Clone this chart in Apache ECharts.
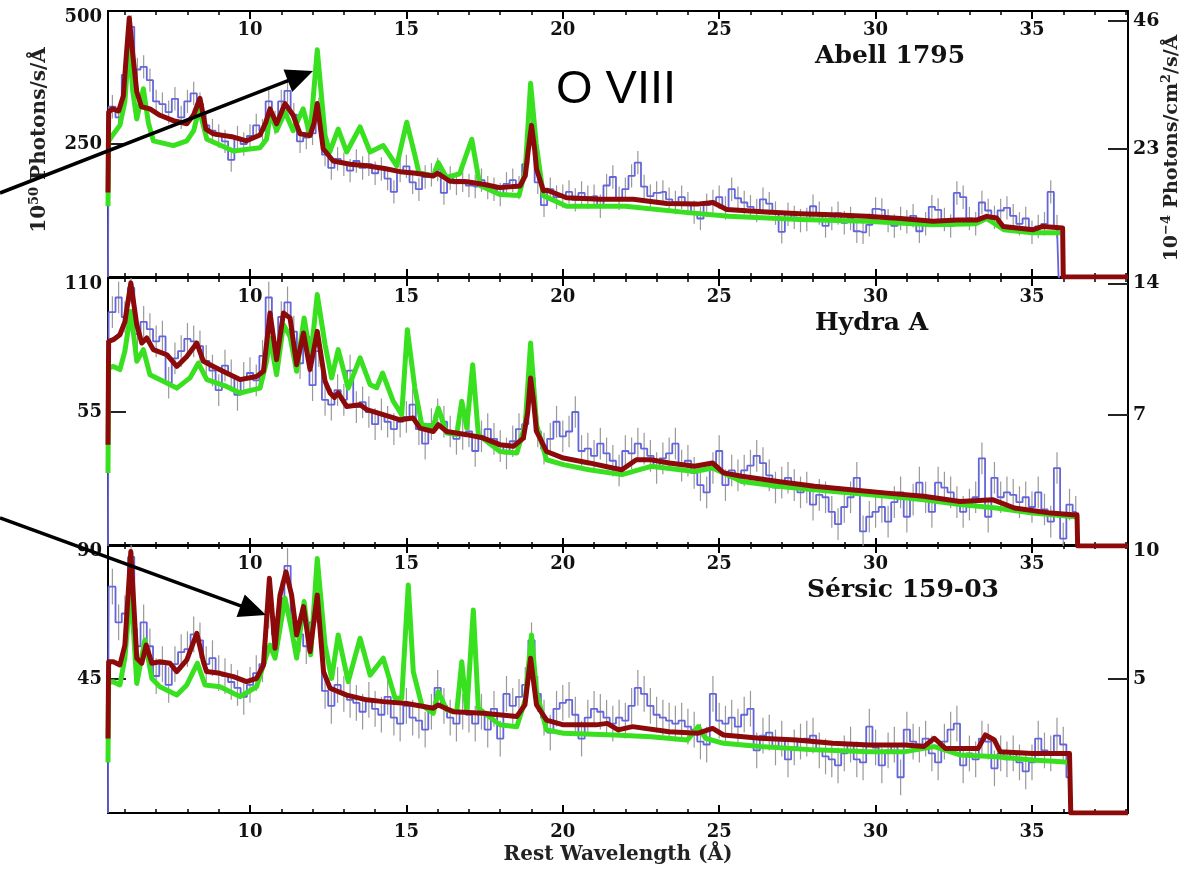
<!DOCTYPE html>
<html><head><meta charset="utf-8">
<script src="https://cdn.jsdelivr.net/npm/echarts@6/dist/echarts.min.js"></script>
<style>html,body{margin:0;padding:0;background:#fff}#c{width:1185px;height:874px}</style>
</head><body><div id="c"></div>
<script>
// ---------------- data ----------------
const X_MIN = 5.46, X_MAX = 38.07;
const xMajorTicks = [10, 15, 20, 25, 30, 35];
const xMinorTicks = [6,7,8,9,10,11,12,13,14,15,16,17,18,19,20,21,22,23,24,25,26,27,28,29,30,31,32,33,34,35,36,37,38];
const leftMax = [500, 110, 90];
const leftTickVals = [[250, 500], [55, 110], [45, 90]];
const rightMax = [47.8, 14.29, 10];
const rightTickVals = [[23, 46], [7, 14], [5, 10]];
const panelNames = ['Abell 1795', 'Hydra A', 'Sérsic 159-03'];

// blue binned data (bins of 0.2 Å starting at 5.6 Å)
const BIN_START = 5.6, BIN_W = 0.2;
const blue1 = [
 320,300,380,470,390,395,370,330,325,310,
 335,300,330,345,325,285,275,265,255,220,
 262,250,265,285,275,330,290,330,350,305,
 255,262,270,315,230,205,222,212,200,218,
 205,212,195,203,185,160,200,208,178,165,
 188,192,202,158,186,176,182,172,170,182,
 168,165,155,175,182,168,212,282,178,135,
 165,150,152,160,145,158,150,152,133,172,
 188,148,165,190,215,170,152,158,160,146,
 140,150,138,122,110,135,142,150,130,165,
 148,140,132,125,146,138,120,85,118,112,
 106,108,133,120,96,110,120,102,110,86,
 84,98,128,126,106,96,110,104,115,86,
 100,132,126,108,96,158,150,110,100,140,
 125,112,125,130,115,100,110,84,95,100,
 160,95];
const blue2 = [
 96,102,94,106,87,92,89,84,86,67,
 77,80,85,84,82,76,72,64,74,70,
 62,69,71,68,78,102,79,94,100,88,
 75,86,66,80,60,58,64,60,72,57,
 59,55,50,54,51,48,51,53,58,48,
 42,50,54,51,47,44,46,47,39,45,
 48,44,41,38,43,48,50,69,47,40,
 44,51,45,47,55,39,40,37,42,38,
 35,31,39,38,42,40,37,32,36,38,
 42,33,35,30,25,22,32,39,25,31,
 29,31,33,37,34,29,24,26,28,25,
 22,24,17,21,20,14,9,16,20,28,
 6,12,14,16,10,18,22,12,19,26,
 20,14,26,24,22,18,14,17,20,36,
 12,28,20,22,21,18,20,16,22,15,
 10,32,3,17,14];
const blue3 = [
 76,64,67,86,56,64,56,46,50,43,
 50,54,55,60,58,50,52,47,46,44,
 42,39,43,47,50,68,60,72,83,64,
 60,56,64,66,41,36,43,40,38,37,
 34,38,35,33,39,32,30,36,32,31,
 28,34,42,36,32,30,34,33,30,34,
 28,35,25,40,36,39,43,58,40,32,
 27,35,37,38,33,25,32,35,34,32,
 30,32,31,36,42,40,36,33,32,31,
 30,31,29,28,24,23,40,31,30,32,
 29,33,35,21,26,27,22,25,18,22,
 24,25,26,21,19,18,16,20,23,18,
 17,29,22,16,21,23,12,28,24,23,
 25,20,17,24,28,30,16,20,18,25,
 24,15,20,18,20,17,14,17,25,21,
 20,26,23,12];
const errHalf = [22, 6.5, 6];

// model curves [wavelength, value]
const red1 = [[5.46,159],[5.48,310],[5.6,316],[5.8,312],[5.95,340],[6.05,420],[6.14,487],[6.25,420],[6.38,348],[6.53,320],[6.8,316],[7.12,304],[7.55,294],[7.98,288],[8.2,305],[8.4,336],[8.59,278],[8.83,269],[9.47,263],[9.89,256],[10.32,267],[10.5,290],[10.64,316],[10.85,288],[11.12,326],[11.38,304],[11.6,269],[11.92,266],[12.05,290],[12.15,326],[12.34,241],[12.66,218],[13.2,212],[13.73,209],[14.3,204],[14.8,198],[15.3,195],[15.86,190],[16.0,195],[16.39,180],[16.93,179],[17.5,174],[17.99,168],[18.63,171],[18.8,190],[18.9,240],[19.0,285],[19.1,240],[19.16,203],[19.38,162],[19.5,163],[20.12,149],[21.19,146],[22.25,146],[23.32,138],[24.3,137],[24.8,140],[25.24,127],[26.5,122],[27.58,119],[28.6,117],[29.71,114],[30.8,110],[31.84,105],[32.6,107],[33.23,107],[33.55,114],[33.87,111],[34.08,95],[35.04,89],[35.35,95],[35.98,92],[36.0,0],[38.07,0]];
const green1 = [[5.46,133],[5.48,255],[5.6,266],[5.84,285],[6.0,330],[6.14,443],[6.25,350],[6.38,297],[6.59,354],[6.75,290],[6.91,256],[7.55,247],[7.98,256],[8.2,275],[8.37,316],[8.62,259],[9.47,237],[10.32,243],[10.53,259],[10.66,310],[10.85,275],[11.12,310],[11.38,275],[11.7,316],[11.92,266],[12.15,427],[12.4,266],[12.55,235],[12.82,278],[13.09,235],[13.52,282],[13.84,235],[14.26,247],[14.69,209],[15.01,291],[15.27,229],[15.4,196],[15.86,190],[16.02,215],[16.28,187],[16.7,194],[17.09,259],[17.35,172],[17.99,155],[18.6,153],[18.8,200],[18.97,364],[19.15,250],[19.38,153],[20.12,133],[22.0,133],[24.0,121],[25.3,114],[27.6,108],[29.7,105],[31.8,98],[33.2,100],[33.55,110],[34.1,89],[35.0,83],[35.9,83]];
const red2 = [[5.46,41.6],[5.48,84],[5.63,84.7],[5.84,86.7],[6.0,92],[6.19,108],[6.38,90.8],[6.54,83.3],[6.7,85.4],[6.91,80.6],[7.34,78.5],[7.66,73.7],[7.98,77.8],[8.3,83.3],[8.51,75.8],[8.83,73.7],[9.25,71],[9.68,68.3],[10.21,69.6],[10.43,71.7],[10.64,95.6],[10.85,76.5],[11.07,95.6],[11.28,93.6],[11.49,74.4],[11.71,87.4],[11.92,72.4],[12.15,88.1],[12.4,67.6],[12.56,62.8],[12.7,61],[12.82,62.8],[13.09,57.3],[13.52,58],[13.73,56],[14.26,53.9],[14.8,51.8],[15.22,52.5],[15.43,48.4],[15.86,47],[16.02,49.8],[16.29,47],[16.93,45.7],[17.46,44.3],[17.99,41.6],[18.42,40.9],[18.74,44.3],[18.88,55],[18.97,69],[19.06,60],[19.16,47],[19.48,38.8],[20.02,36.1],[20.84,34.1],[21.6,32],[21.89,31.3],[22.35,35.4],[22.82,35.4],[23.4,34.1],[24.21,32.7],[24.79,34.1],[25.14,30],[25.72,28.6],[26.88,26.5],[28.05,24.5],[29.21,23.1],[30.37,21.7],[31.54,20.4],[32.7,18.3],[33.74,19],[34.44,15.6],[35.6,13.5],[36.3,12.8],[36.44,12.8],[36.46,0],[38.07,0]];
const green2 = [[5.46,30],[5.48,73],[5.63,73.7],[5.84,72.4],[6.0,80],[6.19,96.3],[6.38,75.8],[6.59,80.6],[6.8,70.3],[7.34,66.9],[7.66,64.8],[8.08,69],[8.35,75.1],[8.62,68.3],[9.25,65.5],[9.68,62.8],[10.32,64.8],[10.53,75.8],[10.64,85.4],[10.85,70.3],[11.07,90.8],[11.28,86],[11.49,71.7],[11.73,93.6],[11.94,77.2],[12.15,103.2],[12.4,82.6],[12.61,69],[12.82,80.6],[13.14,64.8],[13.52,77.2],[13.84,66.2],[14.05,65],[14.24,71],[14.58,59.4],[14.85,53.9],[15.03,88.8],[15.27,64.8],[15.49,49.8],[15.86,49.1],[16.02,56.6],[16.29,46.4],[16.61,45.7],[16.77,59.4],[16.93,48.4],[17.12,74.4],[17.3,45.7],[17.99,38.8],[18.53,38.2],[18.8,50],[18.97,83.3],[19.16,49.8],[19.48,35.4],[20.02,33.4],[20.84,31.3],[21.89,29.3],[22.82,32.7],[24.21,30.6],[24.79,32],[25.72,26.5],[26.88,24.5],[28.05,23.1],[29.21,21.7],[30.37,20.4],[31.54,19],[32.7,17],[33.86,15.6],[35.02,13.5],[36.18,12.2],[36.4,12]];
const red3 = [[5.46,25],[5.48,50.8],[5.63,50.8],[5.84,49.7],[6.0,56.4],[6.19,87.8],[6.38,52],[6.54,50.3],[6.68,56.4],[6.86,50.3],[7.12,50.8],[7.44,50.3],[7.66,47.5],[7.98,51.4],[8.3,60.3],[8.51,50.8],[8.61,47.5],[9.04,46.9],[9.47,45.8],[9.89,44.1],[10.21,45.2],[10.43,49.7],[10.62,78.8],[10.8,55.3],[10.96,73.2],[11.15,81],[11.33,73.2],[11.49,59.8],[11.71,69.3],[11.92,54.2],[12.15,73.2],[12.35,47.5],[12.56,41.9],[13.09,39.6],[13.73,38],[14.26,37.4],[15.01,36.8],[15.86,35.2],[16.02,36.3],[16.5,34],[17.46,33.5],[18.53,32.4],[18.79,36.3],[18.97,52],[19.16,36.3],[19.48,31.2],[20.02,29.6],[21.07,29.6],[21.42,30.1],[21.77,27.9],[22.23,29],[23.4,27.3],[24.33,26.8],[24.79,28.4],[25.14,26.2],[26.3,25.1],[27.47,24.5],[28.63,23.4],[29.79,22.8],[30.95,22.8],[31.54,22.3],[31.88,25.1],[32.23,21.7],[33.28,21.7],[33.51,26.2],[33.8,24.5],[33.98,20.6],[35.02,20],[36.13,20],[36.2,20],[36.24,0],[38.07,0]];
const green3 = [[5.46,17],[5.48,44],[5.63,44.1],[5.84,43],[6.0,52],[6.19,75.4],[6.38,43.5],[6.64,58.1],[6.86,45.2],[7.12,42.4],[7.66,39.6],[7.98,43],[8.32,50.3],[8.56,43],[9.04,42.4],[9.68,39.1],[10.21,42.4],[10.53,53.1],[10.64,56.4],[10.8,52],[11.12,72.1],[11.33,61.5],[11.49,52],[11.73,71],[11.94,53.1],[12.15,85.5],[12.4,56.4],[12.61,45.2],[12.82,59.8],[13.14,44.1],[13.52,58.7],[13.84,46.3],[14.26,52],[14.64,38.5],[14.85,38.5],[15.06,76.6],[15.22,47.5],[15.49,36.3],[15.86,33.5],[16.02,40.7],[16.29,34.6],[16.61,34],[16.77,50.8],[16.93,34],[17.14,68.2],[17.3,35.2],[17.99,29.6],[18.53,29],[18.8,38],[19.0,59.8],[19.16,40.7],[19.48,27.9],[20.02,26.8],[21.65,26.2],[22.82,25.6],[23.98,24.5],[24.33,29],[24.56,25.1],[25.14,23.4],[26.3,22.3],[28.05,21.2],[29.79,20.6],[30.95,20.6],[31.88,22.3],[32.7,19.5],[33.86,18.9],[35.02,17.8],[35.95,17.2],[36.15,17]];

const blues = [blue1, blue2, blue3];
const reds = [red1, red2, red3];
const greens = [green1, green2, green3];

// ---------------- layout / style ----------------
const SERIF = 'DejaVu Serif';
const grids = [
  {left:108, right:57, top:11, height:266},
  {left:108, right:57, top:278, height:268},
  {left:108, right:57, top:545, height:268}
];
const C_RED = '#8c0a0a', C_GREEN = '#38e020', C_BLUE = '#6464dc', C_ERR = '#999999';

function binPairs(arr) {
  return arr.map((v, i) => [Math.round((BIN_START + i * BIN_W) * 100) / 100, v]);
}

const xAxes = [], yAxes = [], series = [];
const lblStyle = {fontFamily: SERIF, fontWeight: 'bold', fontSize: 18, color: '#111'};
for (let g = 0; g < 3; g++) {
  const common = {gridIndex: g, type: 'value', min: X_MIN, max: X_MAX, splitLine: {show: false}};
  const lineOn = {show: true, onZero: false, lineStyle: {color: '#000', width: 2}};
  const minorT = {show: true, inside: true, length: 4, customValues: xMinorTicks, lineStyle: {color: '#000', width: 1.5}};
  const majorT = {show: true, inside: true, length: 8, customValues: xMajorTicks, lineStyle: {color: '#000', width: 2}};
  xAxes.push(Object.assign({}, common, {position: 'bottom', axisLine: lineOn, axisTick: minorT,
    axisLabel: g === 2 ? Object.assign({show: true, customValues: xMajorTicks, margin: 10}, lblStyle) : {show: false}}));
  xAxes.push(Object.assign({}, common, {position: 'bottom', axisLine: {show: false, onZero: false}, axisTick: majorT, axisLabel: {show: false}}));
  xAxes.push(Object.assign({}, common, {position: 'top', axisLine: lineOn, axisTick: minorT,
    axisLabel: Object.assign({show: true, inside: true, customValues: xMajorTicks, margin: 10}, lblStyle)}));
  xAxes.push(Object.assign({}, common, {position: 'top', axisLine: {show: false, onZero: false}, axisTick: majorT, axisLabel: {show: false}}));

  const lm = leftMax[g], rm = rightMax[g];
  const tok = {fontFamily: SERIF, fontWeight: 'bold', fontSize: 18, color: '#111'};
  const tokR = {fontFamily: SERIF, fontWeight: 'bold', fontSize: 19, color: '#111'};
  yAxes.push({gridIndex: g, type: 'value', min: 0, max: lm, position: 'left',
    axisLine: lineOn, splitLine: {show: false},
    axisTick: {show: true, inside: true, length: 18, customValues: [leftTickVals[g][0]], lineStyle: {color: '#222', width: 2}},
    axisLabel: {show: true, customValues: leftTickVals[g], margin: 6,
      formatter: v => (v === lm ? '{t|' + v + '}' : '{m|' + v + '}'),
      rich: {t: Object.assign({padding: [13, 0, 0, 0]}, tok), m: Object.assign({}, tok)}}});
  yAxes.push({gridIndex: g, type: 'value', min: 0, max: rm, position: 'right',
    axisLine: lineOn, splitLine: {show: false},
    axisTick: {show: true, inside: true, length: 20, customValues: rightTickVals[g], lineStyle: {color: '#222', width: 2}},
    axisLabel: {show: true, customValues: rightTickVals[g], margin: 5,
      formatter: v => (v === rm ? '{t|' + v + '}' : '{m|' + v + '}'),
      rich: {t: Object.assign({padding: [13, 0, 0, 0]}, tokR), m: Object.assign({}, tokR)}}});

  const bins = binPairs(blues[g]);
  const last = bins[bins.length - 1];
  const e = errHalf[g];
  series.push({type: 'custom', xAxisIndex: g * 4, yAxisIndex: g * 2, clip: true, data: bins, z: 1,
    renderItem: (params, api) => {
      const x = api.value(0), y = api.value(1);
      const p1 = api.coord([x, Math.max(0, y - e)]), p2 = api.coord([x, y + e]);
      return {type: 'line', shape: {x1: p1[0], y1: p1[1], x2: p2[0], y2: p2[1]}, style: {stroke: C_ERR, lineWidth: 1.2}};
    }});
  series.push({type: 'line', xAxisIndex: g * 4, yAxisIndex: g * 2, step: 'middle', showSymbol: false, symbol: 'none', z: 2,
    data: [[X_MIN, 0], [5.5, bins[0][1]]].concat(bins, [[last[0] + 0.1, 0]]),
    lineStyle: {color: C_BLUE, width: 1.8}});
  series.push({type: 'line', xAxisIndex: g * 4, yAxisIndex: g * 2, showSymbol: false, symbol: 'none', z: 3,
    data: greens[g], lineStyle: {color: C_GREEN, width: 5, join: 'round'}});
  series.push({type: 'line', xAxisIndex: g * 4, yAxisIndex: g * 2, showSymbol: false, symbol: 'none', z: 4,
    data: reds[g], lineStyle: {color: C_RED, width: 5, join: 'round'}});
}

// annotations
function arrow(sx, sy, tx, ty) {
  const dx = tx - sx, dy = ty - sy, L = Math.hypot(dx, dy);
  const ux = dx / L, uy = dy / L, hl = 27, hw = 12;
  const bx = tx - ux * hl, by = ty - uy * hl;
  return [
    {type: 'line', z: 100, shape: {x1: sx, y1: sy, x2: bx + ux * 3, y2: by + uy * 3}, style: {stroke: '#000', lineWidth: 3.5}},
    {type: 'polygon', z: 100, shape: {points: [[tx, ty], [bx - uy * hw, by + ux * hw], [bx + uy * hw, by - ux * hw]]}, style: {fill: '#000'}}
  ];
}
const titlePos = [[815, 56], [815, 323], [807, 590]];
const graphics = [];
panelNames.forEach((n, i) => graphics.push({type: 'text', z: 100, x: titlePos[i][0], y: titlePos[i][1],
  style: {text: n, fontFamily: SERIF, fontWeight: 'bold', fontSize: 25, fill: '#111', align: 'left', verticalAlign: 'middle'}}));
graphics.push({type: 'text', z: 100, x: 556, y: 90, style: {text: 'O VIII', fontFamily: 'Liberation Sans', fontSize: 47, fill: '#000', align: 'left', verticalAlign: 'middle'}});
graphics.push({type: 'text', z: 100, x: 618, y: 855, style: {text: 'Rest Wavelength (Å)', fontFamily: SERIF, fontWeight: 'bold', fontSize: 20, fill: '#222', align: 'center', verticalAlign: 'middle'}});
const ttl = {fontFamily: SERIF, fontWeight: 'bold', fontSize: 20, fill: '#222', lineHeight: 24};
const sup = {fontFamily: SERIF, fontWeight: 'bold', fontSize: 13, fill: '#222', verticalAlign: 'top'};
graphics.push({type: 'text', z: 100, x: 40, y: 140, rotation: Math.PI / 2,
  style: {text: '{a|10}{b|50}{a| Photons/s/Å}', align: 'center', verticalAlign: 'middle', rich: {a: ttl, b: sup}}});
const ttlR = Object.assign({}, ttl, {fontSize: 19});
graphics.push({type: 'text', z: 100, x: 1172, y: 148, rotation: Math.PI / 2,
  style: {text: '{a|10}{b|−4}{a| Photons/cm}{b|2}{a|/s/Å}', align: 'center', verticalAlign: 'middle', rich: {a: ttlR, b: sup}}});
arrow(0, 193, 313, 71).forEach(o => graphics.push(o));
arrow(0, 518, 266, 615).forEach(o => graphics.push(o));

const chart = echarts.init(document.getElementById('c'), null, {renderer: 'canvas'});
chart.setOption({
  animation: false,
  backgroundColor: '#fff',
  grid: grids,
  xAxis: xAxes,
  yAxis: yAxes,
  series: series,
  graphic: graphics
});
</script></body></html>
